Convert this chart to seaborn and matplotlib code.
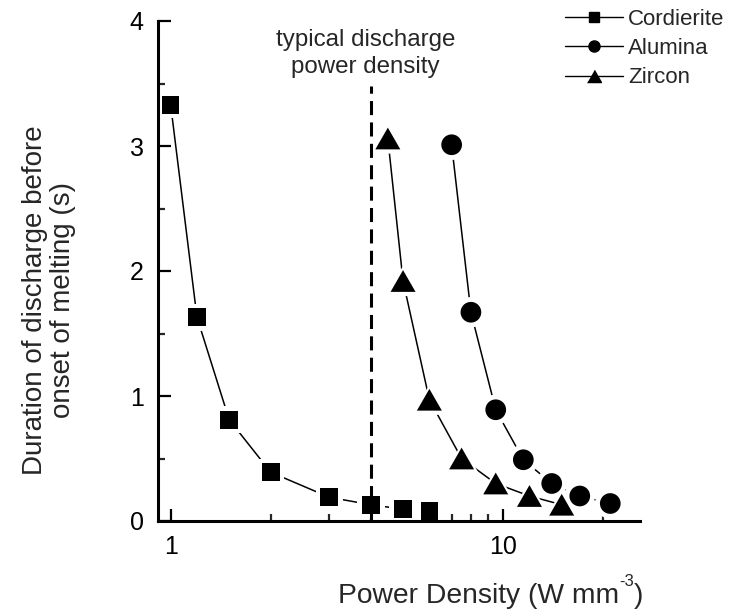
import numpy as np
import pandas as pd
import matplotlib
matplotlib.use("Agg")
import matplotlib.pyplot as plt
from matplotlib.lines import Line2D
from matplotlib.ticker import FixedLocator, NullFormatter, MultipleLocator
import seaborn as sns

# ---- data ----
cord_x = [1.0, 1.2, 1.5, 2.0, 3.0, 4.0, 5.0, 6.0]
cord_y = [3.33, 1.63, 0.81, 0.39, 0.19, 0.13, 0.095, 0.078]
alum_x = [7.0, 8.0, 9.5, 11.5, 14.0, 17.0, 21.0]
alum_y = [3.01, 1.67, 0.89, 0.49, 0.30, 0.20, 0.14]
zirc_x = [4.5, 5.0, 6.0, 7.5, 9.5, 12.0, 15.0]
zirc_y = [3.06, 1.92, 0.97, 0.50, 0.30, 0.20, 0.13]
series_names = ["Cordierite", "Alumina", "Zircon"]
typical_x = 4.0
typical_top = 3.48
x_ticks = [1, 10]
y_ticks = [0, 1, 2, 3, 4]

sns.set_theme(style="ticks")
plt.rcParams['font.family'] = ['Liberation Sans', 'DejaVu Sans']

W, H = 731, 613
fig = plt.figure(figsize=(W / 100, H / 100), dpi=100)
ax = fig.add_axes([157.5 / W, 1 - 521 / H, (640 - 157.5) / W, (521 - 21) / H])

tri = [(-1, -0.87), (1, -0.87), (0, 0.87)]
styles = [("s", 12.7), ("o", 14.9), (tri, 18.0)]
datasets = [(cord_x, cord_y), (alum_x, alum_y), (zirc_x, zirc_y)]
gap = 7.0  # points of white halo around markers

for (xs, ys), (mk, ms), name in zip(datasets, styles, series_names):
    df = pd.DataFrame({"x": xs, "y": ys})
    sns.lineplot(data=df, x="x", y="y", ax=ax, color="black", lw=1.1,
                 sort=False, zorder=2)
    sns.scatterplot(data=df, x="x", y="y", ax=ax, marker=mk, s=(ms + gap) ** 2,
                    color="white", edgecolor="none", linewidth=0, zorder=3)
    sns.scatterplot(data=df, x="x", y="y", ax=ax, marker=mk, s=ms ** 2,
                    color="black", edgecolor="none", linewidth=0, zorder=4)

ax.plot([typical_x, typical_x], [0, typical_top], color="black", lw=2.2,
        ls=(0, (4.6, 2.4)), zorder=5)
ax.text(3.86, 3.74, "typical discharge\npower density", ha="center", va="center",
        fontsize=17.4, linespacing=1.3)

ax.set_xscale("log")
ax.set_xlim(0.913, 25.8)
ax.set_ylim(0, 4)
ax.xaxis.set_major_locator(FixedLocator(x_ticks))
ax.xaxis.set_minor_locator(FixedLocator([2, 3, 4, 5, 6, 7, 8, 9, 20]))
ax.xaxis.set_minor_formatter(NullFormatter())
ax.set_xticklabels([str(t) for t in x_ticks])
ax.yaxis.set_major_locator(FixedLocator(y_ticks))
ax.yaxis.set_minor_locator(MultipleLocator(0.5))
ax.set_yticklabels([str(t) for t in y_ticks])
ax.set_xlabel("")
ax.set_ylabel("")

for s in ["top", "right"]:
    ax.spines[s].set_visible(False)
for s in ["left", "bottom"]:
    ax.spines[s].set_linewidth(2.2)
    ax.spines[s].set_color("black")
    ax.spines[s].set_zorder(10)
ax.tick_params(which="major", direction="in", length=9, width=1.6, labelsize=18,
               pad=10, colors="black")
ax.tick_params(which="minor", direction="in", length=5, width=1.6)

# x axis title with a hyphen superscript
t1 = fig.text(338 / W, (H - 603) / H, "Power Density (W mm", ha="left",
              va="baseline", fontsize=20.3)
t2 = ax.annotate("-3", xy=(1.0, H - 586), xycoords=(t1, "figure pixels"),
                 ha="left", va="baseline", fontsize=12, annotation_clip=False)
t3 = ax.annotate(")", xy=(1.0, H - 603), xycoords=(t2, "figure pixels"),
                 ha="left", va="baseline", fontsize=20.3, annotation_clip=False)

fig.text(49 / W, 1 - 300 / H, "Duration of discharge before\nonset of melting (s)",
         rotation=90, ha="center", va="center", fontsize=20, linespacing=1.1,
         multialignment="center")

handles = [
    Line2D([], [], color="black", lw=1.0, marker="s", markersize=7),
    Line2D([], [], color="black", lw=1.0, marker="o", markersize=8),
    Line2D([], [], color="black", lw=1.0, marker=tri, markersize=10),
]
leg = fig.legend(handles, series_names, loc="upper left",
                 bbox_to_anchor=(565 / W, 1 - 9 / H), frameon=False, fontsize=16,
                 handlelength=2.6, handletextpad=0.23, labelspacing=0.37,
                 borderpad=0, borderaxespad=0)

fig.savefig("out.png", dpi=100)
